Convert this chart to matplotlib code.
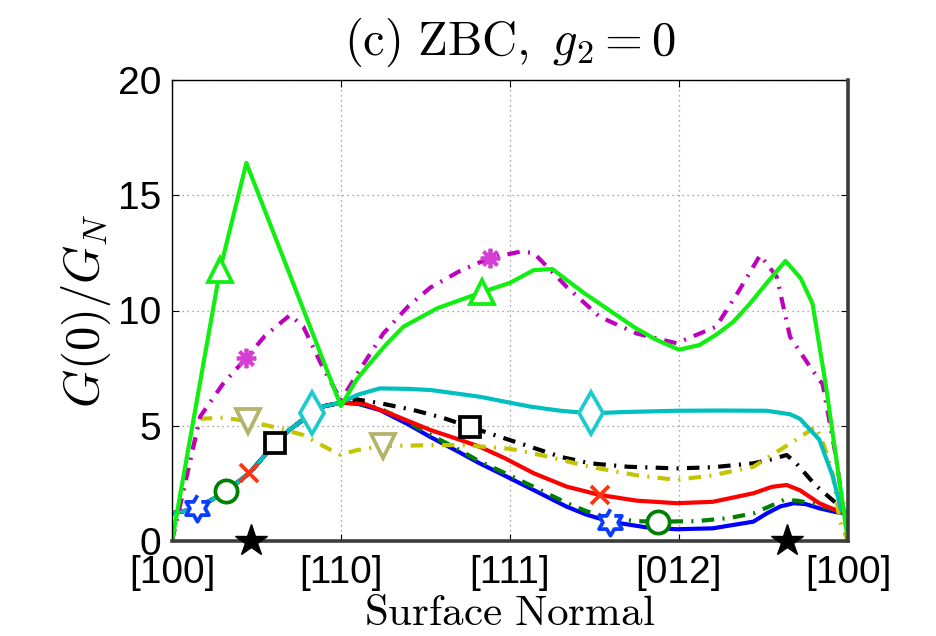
import numpy as np
import matplotlib
matplotlib.use("Agg")
import matplotlib.pyplot as plt

plt.rcParams['mathtext.fontset'] = 'cm'

# ---------------- data ----------------
tick_pos = [0, 1, 2, 3, 4]
tick_labels = ['[100]', '[110]', '[111]', '[012]', '[100]']
ytick_pos = [0, 5, 10, 15, 20]

# shared segment [100]->[110] for the five overlapping curves
bundle_x = [0, 0.125, 0.146, 0.25, 0.32, 0.375, 0.457, 0.5, 0.61, 0.7, 0.826, 0.9, 1.0]
bundle_y = [1.2, 1.38, 1.43, 1.85, 2.18, 2.48, 2.94, 3.3, 4.24, 4.85, 5.54, 5.85, 6.0]

blue_x = [1.1, 1.23, 1.4, 1.527, 1.7, 1.82, 1.94, 2.14, 2.335, 2.45, 2.59, 2.8, 2.986, 3.2,
          3.44, 3.52, 3.6, 3.68, 3.75, 3.83, 3.93, 4.0]
blue_y = [5.95, 5.68, 5.05, 4.52, 3.85, 3.37, 2.94, 2.21, 1.49, 1.15, 0.84, 0.6, 0.51, 0.55,
          0.84, 1.2, 1.5, 1.64, 1.6, 1.42, 1.25, 1.2]

dgreen_x = [1.1, 1.23, 1.4, 1.527, 1.7, 1.82, 1.94, 2.14, 2.335, 2.45, 2.59, 2.75, 2.877, 3.1,
            3.3, 3.44, 3.52, 3.62, 3.7, 3.78, 3.89, 4.0]
dgreen_y = [5.97, 5.75, 5.15, 4.62, 3.95, 3.45, 3.05, 2.35, 1.65, 1.3, 1.0, 0.86, 0.84, 0.86,
            1.0, 1.2, 1.45, 1.78, 1.75, 1.64, 1.42, 1.2]

red_x = [1.13, 1.3, 1.527, 1.7, 1.82, 1.97, 2.14, 2.335, 2.53, 2.75, 2.986, 3.2, 3.44, 3.55,
         3.637, 3.716, 3.83, 3.95, 4.0]
red_y = [5.97, 5.5, 4.82, 4.4, 4.09, 3.59, 2.94, 2.36, 2.0, 1.75, 1.64, 1.7, 2.07, 2.35,
         2.43, 2.2, 1.64, 1.27, 1.2]

black_x = [1.09, 1.25, 1.43, 1.6, 1.763, 1.94, 2.12, 2.3, 2.473, 2.7, 2.986, 3.2, 3.44, 3.55,
           3.637, 3.69, 3.81, 3.93, 4.0]
black_y = [6.15, 5.95, 5.68, 5.35, 4.95, 4.52, 4.09, 3.65, 3.37, 3.22, 3.15, 3.2, 3.37, 3.55,
           3.73, 3.4, 2.4, 1.64, 1.2]

cyan_x = [1.1, 1.23, 1.4, 1.53, 1.82, 2.0, 2.12, 2.3, 2.477, 2.7, 2.986, 3.25, 3.52, 3.657,
          3.716, 3.83, 3.91, 3.96, 4.0]
cyan_y = [6.35, 6.62, 6.6, 6.55, 6.26, 6.0, 5.83, 5.65, 5.54, 5.6, 5.65, 5.66, 5.65, 5.5,
          5.3, 4.4, 2.8, 1.35, 1.2]

yellow_x = [0, 0.166, 0.3, 0.45, 0.6, 0.777, 0.9, 0.994, 1.1, 1.25, 1.566, 1.72, 2.0, 2.2,
            2.473, 2.75, 2.986, 3.2, 3.44, 3.69, 3.81, 3.86, 3.91, 3.95, 4.0]
yellow_y = [0, 5.3, 5.35, 5.2, 4.95, 4.6, 4.1, 3.75, 3.95, 4.12, 4.16, 4.16, 4.0, 3.7,
            3.22, 2.85, 2.65, 2.85, 3.22, 4.38, 4.96, 4.1, 2.9, 0.9, 0]

magenta_x = [0, 0.166, 0.3, 0.438, 0.55, 0.698, 0.777, 0.89, 1.0, 1.1, 1.25, 1.4, 1.53, 1.7,
             1.88, 2.06, 2.14, 2.335, 2.53, 2.75, 2.986, 3.22, 3.35, 3.48, 3.578, 3.657,
             3.79, 3.85, 3.93, 4.0]
magenta_y = [0, 5.39, 6.8, 7.93, 8.9, 9.8, 9.3, 7.56, 6.1, 7.3, 9.0, 10.2, 11.0, 11.7,
             12.28, 12.55, 12.5, 11.03, 9.73, 9.0, 8.58, 9.3, 10.8, 12.4, 11.47, 8.86,
             7.4, 6.8, 3.6, 0]

green_x = [0, 0.284, 0.44, 1.0, 1.09, 1.17, 1.27, 1.37, 1.57, 1.836, 2.0, 2.14, 2.25, 2.43,
           2.6, 2.73, 2.86, 3.0, 3.12, 3.22, 3.32, 3.42, 3.52, 3.63, 3.72, 3.79, 3.87, 3.93, 4.0]
green_y = [0, 11.76, 16.4, 5.85, 6.98, 7.7, 8.55, 9.3, 10.1, 10.8, 11.2, 11.75, 11.8, 10.8,
           9.95, 9.3, 8.75, 8.3, 8.5, 8.95, 9.5, 10.3, 11.2, 12.15, 11.4, 10.3, 6.7, 3.6, 0]

star_x = [0, 0.47, 3.64, 4]
star_y = [0, 0, 0, 0]

# marker locations (x values present in each series)
blue_mk = [0.146, 2.59]
dgreen_mk = [0.32, 2.877]
red_mk = [0.457, 2.53]
black_mk = [0.61, 1.763]
cyan_mk = [0.826, 2.477]
yellow_mk = [0.45, 1.25]
magenta_mk = [0.438, 1.88]
green_mk = [0.284, 1.836]
star_mk = [0.47, 3.64]

# ---------------- figure ----------------
fig = plt.figure(figsize=(9.36, 6.36), dpi=100)
ax = fig.add_axes([172/936, 1-541/636, 676/936, 461/636])

LW = 3.0
DASHDOT = (0, (3, 2, 0.5, 2))

ang = np.deg2rad(np.arange(12) * 30 + 90)
rad = np.where(np.arange(12) % 2 == 0, 1.0, 1/np.sqrt(3))
hexagram = list(zip(rad*np.cos(ang), rad*np.sin(ang)))


def draw(x, y, color, ls, mk_x, marker, ms, mcolor=None, mfc='white', z=2):
    ax.plot(x, y, color=color, lw=LW, linestyle=ls, zorder=z,
            solid_joinstyle='round', dash_joinstyle='round', dash_capstyle='butt')
    idx = [list(x).index(v) for v in mk_x]
    ax.plot([x[i] for i in idx], [y[i] for i in idx], linestyle='none', marker=marker,
            ms=ms, mec=mcolor or color, mfc=mfc, mew=2.7, zorder=10)


draw(bundle_x + blue_x, bundle_y + blue_y, '#0000ff', '-', blue_mk, hexagram, 19,
     mcolor='#0a3cff')
draw(bundle_x + dgreen_x, bundle_y + dgreen_y, '#008000', DASHDOT, dgreen_mk, 'o', 16)
draw(bundle_x + red_x, bundle_y + red_y, '#ff0000', '-', red_mk, 'x', 13, mcolor='#ff3311')
draw(bundle_x + black_x, bundle_y + black_y, '#000000', DASHDOT, black_mk, 's', 14)
draw(yellow_x, yellow_y, '#c4c400', DASHDOT, yellow_mk, 'v', 17, mcolor='#b3b36a')
draw(bundle_x + cyan_x, bundle_y + cyan_y, '#00bfbf', '-', cyan_mk, 'd', 21,
     mcolor='#1ccccc')
draw(magenta_x, magenta_y, '#bf00bf', DASHDOT, magenta_mk, (8, 2, 0), 14,
     mcolor='#d43ed4')
draw(green_x, green_y, '#11ee11', '-', green_mk, '^', 17, mcolor='#11ee11')

idx = [star_x.index(v) for v in star_mk]
ax.plot([star_x[i] for i in idx], [star_y[i] for i in idx], linestyle='none', marker='*',
        ms=24, mec='black', mfc='black', zorder=11, clip_on=False)

ax.set_xlim(0, 4)
ax.set_ylim(0, 20)
ax.set_xticks(tick_pos)
ax.set_xticklabels(tick_labels)
ax.set_yticks(ytick_pos)
ax.grid(True, linestyle=(0, (1, 3)), color='#8a8a8a', lw=0.9)

for lab in ax.get_xticklabels() + ax.get_yticklabels():
    lab.set_fontfamily('Liberation Sans')
    lab.set_fontsize(28)
ax.tick_params(direction='in', length=5, width=0.8, top=True, right=True)
ax.tick_params(axis='x', pad=10)
ax.tick_params(axis='y', pad=8)

for s in ['top', 'left']:
    ax.spines[s].set_linewidth(1.0)
    ax.spines[s].set_color('black')
for s in ['bottom', 'right']:
    ax.spines[s].set_linewidth(2.6)
    ax.spines[s].set_color('#3c3c3c')
    ax.spines[s].set_zorder(9)

ax.set_title(r'$\mathrm{(c)\ ZBC,}\ g_2 = 0$', fontsize=35, pad=18)
ax.set_xlabel(r'$\mathrm{Surface\ Normal}$', fontsize=31, labelpad=1)
ax.set_ylabel(r'$G(0)/G_N$', fontsize=35, labelpad=3)

fig.savefig('out.png', dpi=100)
